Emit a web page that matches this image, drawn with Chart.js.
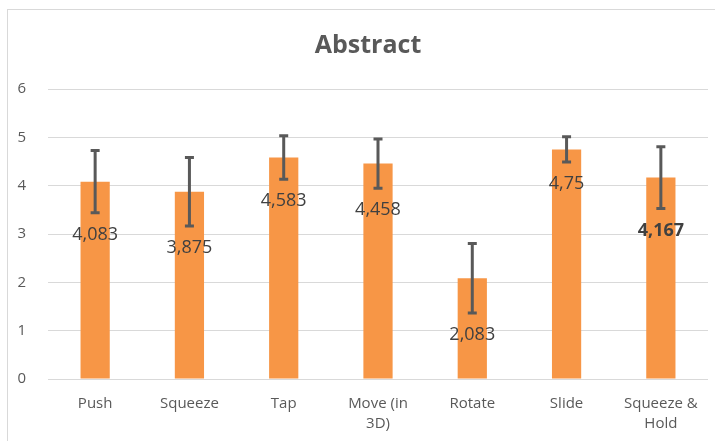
<!DOCTYPE html>
<html>
<head>
<meta charset="utf-8">
<script src="https://cdn.jsdelivr.net/npm/chart.js@4"></script>
<style>
  html, body { margin: 0; padding: 0; background: #fff; overflow: hidden; width: 715px; height: 441px; }
  #frame { position: absolute; left: 7px; top: 9px; width: 720px; height: 448px; border: 1px solid #d9d9d9; box-sizing: border-box; }
  #frame canvas { position: absolute; left: 0; top: 0; }
</style>
</head>
<body>
<div id="frame"><canvas id="mainChart" width="720" height="448"></canvas></div>
<script>
// --- dados ---
const categories = ['Push', 'Squeeze', 'Tap', ['Move (in', '3D)'], 'Rotate', 'Slide', ['Squeeze &', 'Hold']];
const scores = [4.083, 3.875, 4.583, 4.458, 2.083, 4.75, 4.167];
const errors = [0.645, 0.71, 0.45, 0.51, 0.72, 0.26, 0.64];
const yTicks = [0, 1, 2, 3, 4, 5, 6];

// error bars + rótulos de valor
const errorBarPlugin = {
    id: 'errorBars',
    afterDatasetsDraw(chart) {
        const { ctx, scales: { y } } = chart;
        const meta = chart.getDatasetMeta(0);
        ctx.save();
        meta.data.forEach((bar, i) => {
            const hi = y.getPixelForValue(scores[i] + errors[i]);
            const lo = y.getPixelForValue(scores[i] - errors[i]);
            ctx.strokeStyle = '#595959';
            ctx.lineWidth = 3;
            ctx.beginPath();
            ctx.moveTo(bar.x, hi); ctx.lineTo(bar.x, lo);
            ctx.moveTo(bar.x - 4.5, hi); ctx.lineTo(bar.x + 4.5, hi);
            ctx.moveTo(bar.x - 4.5, lo); ctx.lineTo(bar.x + 4.5, lo);
            ctx.stroke();

            const isLast = i === scores.length - 1;
            ctx.fillStyle = '#404040';
            ctx.font = (isLast ? 'bold ' : '') + '18px "Open Sans"';
            ctx.textAlign = 'center';
            ctx.textBaseline = 'middle';
            ctx.fillText(String(scores[i]).replace('.', ','), bar.x, lo + 22);
        });
        ctx.restore();
    }
};

const ctx = document.getElementById('mainChart').getContext('2d');
new Chart(ctx, {
    type: 'bar',
    data: {
        labels: categories,
        datasets: [{
            data: scores,
            backgroundColor: '#F79646',
            borderWidth: 0,
            categoryPercentage: 1,
            barPercentage: 0.31
        }]
    },
    options: {
        responsive: false,
        animation: false,
        layout: { padding: { left: 0, right: 0, top: 0, bottom: 18 } },
        plugins: {
            legend: { display: false },
            tooltip: { enabled: false },
            title: {
                display: true,
                text: 'Abstract',
                color: '#595959',
                font: { family: 'Open Sans', size: 25, weight: 'bold' },
                padding: { top: 21, bottom: 28 }
            }
        },
        scales: {
            x: {
                grid: { display: false },
                border: { display: false },
                ticks: {
                    color: '#595959',
                    font: { family: 'Open Sans', size: 15, lineHeight: 1.3 },
                    padding: 7,
                    maxRotation: 0,
                    autoSkip: false
                }
            },
            y: {
                min: 0,
                max: 6,
                afterBuildTicks: axis => { axis.ticks = yTicks.map(v => ({ value: v })); },
                afterFit: axis => { axis.width = 40; },
                grid: { color: '#d9d9d9', lineWidth: 1, drawTicks: false },
                border: { display: false },
                ticks: {
                    color: '#595959',
                    font: { family: 'Open Sans', size: 15 },
                    padding: 22
                }
            },
            // eixo vazio à direita só para reservar espaço
            yRight: {
                position: 'right',
                grid: { display: false },
                border: { display: false },
                ticks: { display: false },
                afterFit: axis => { axis.width = 20; }
            }
        }
    },
    plugins: [errorBarPlugin]
});
</script>
</body>
</html>
